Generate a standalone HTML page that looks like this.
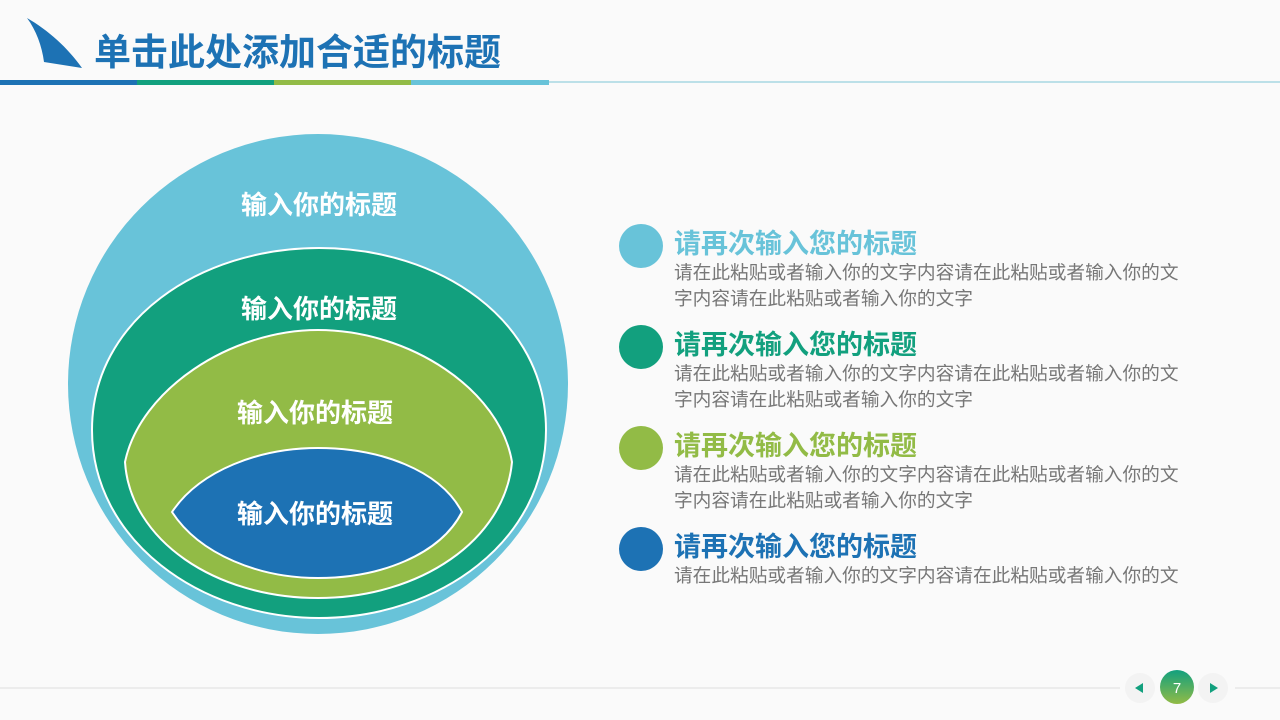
<!DOCTYPE html>
<html><head><meta charset="utf-8"><style>
body{margin:0;width:1280px;height:720px;position:relative;overflow:hidden;background:#fafafa;font-family:"Liberation Sans","Noto Sans CJK SC",sans-serif}
.t{position:absolute;left:94px;top:22px;font-size:37px;font-weight:bold;color:#1d72b4;letter-spacing:0px}
.bar{position:absolute;top:80px;height:5px}
.h{position:absolute;left:674px;font-size:27px;font-weight:bold;white-space:nowrap}
.p{position:absolute;left:674px;font-size:18.7px;color:#777;line-height:26px;width:512px}
.dot{position:absolute;left:619px;width:44px;height:44px;border-radius:50%}
</style></head><body>
<svg width="1280" height="720" style="position:absolute;left:0;top:0">
<path d="M27,18 C48,30 68,48 82,68 L44,62 C42,46 36,30 27,18 Z" fill="#1d72b4"/>
<line x1="549" y1="82" x2="1280" y2="82" stroke="#7fc6d6" stroke-width="1"/>
<line x1="0" y1="688" x2="1120" y2="688" stroke="#ddd"/>
<line x1="1235" y1="688" x2="1280" y2="688" stroke="#ddd"/>
<circle cx="318" cy="384" r="250" fill="#68c3d9"/>
<path d="M92,430 C92,320 200,248 319,248 C440,248 546,320 546,430 C546,540 440,618 319,618 C200,618 92,540 92,430 Z" fill="#12a07e" stroke="#fff" stroke-width="2"/>
<path d="M125,462 C140,390 230,330 318,330 C410,330 500,390 512,462 C505,540 420,598 318,598 C215,598 130,540 125,462 Z" fill="#92bb46" stroke="#fff" stroke-width="2"/>
<path d="M172,512 C200,470 260,448 318,448 C380,448 440,470 462,512 C440,555 380,578 318,578 C260,578 200,555 172,512 Z" fill="#1d72b4" stroke="#fff" stroke-width="2"/>
<g font-family="Liberation Sans,Noto Sans CJK SC,sans-serif" font-size="26" font-weight="bold" fill="#fff" text-anchor="middle">
<text x="319" y="214">输入你的标题</text>
<text x="319" y="318">输入你的标题</text>
<text x="315" y="422">输入你的标题</text>
<text x="315" y="523">输入你的标题</text>
</g>
<circle cx="1140" cy="688" r="15" fill="#f3f3f3"/>
<circle cx="1213" cy="688" r="15" fill="#f3f3f3"/>
<path d="M1135,688 L1143,683 L1143,693 Z" fill="#12a07e"/>
<path d="M1218,688 L1210,683 L1210,693 Z" fill="#12a07e"/>
<defs><linearGradient id="g" x1="0" y1="0" x2="0" y2="1"><stop offset="0" stop-color="#12a07e"/><stop offset="1" stop-color="#92bb46"/></linearGradient></defs>
<circle cx="1177" cy="687" r="17" fill="url(#g)"/>
<text x="1177" y="693" font-size="15" fill="#fff" text-anchor="middle" font-family="Liberation Sans,sans-serif">7</text>
</svg>
<div class="t">单击此处添加合适的标题</div>
<div class="bar" style="left:0;width:137px;background:#1d72b4"></div>
<div class="bar" style="left:137px;width:137px;background:#12a07e"></div>
<div class="bar" style="left:274px;width:137px;background:#92bb46"></div>
<div class="bar" style="left:411px;width:138px;background:#68c3d9"></div>

<div class="dot" style="top:224px;background:#68c3d9"></div>
<div class="h" style="top:222px;color:#68c3d9">请再次输入您的标题</div>
<div class="p" style="top:260px">请在此粘贴或者输入你的文字内容请在此粘贴或者输入你的文字内容请在此粘贴或者输入你的文字</div>
<div class="dot" style="top:325px;background:#12a07e"></div>
<div class="h" style="top:323px;color:#12a07e">请再次输入您的标题</div>
<div class="p" style="top:361px">请在此粘贴或者输入你的文字内容请在此粘贴或者输入你的文字内容请在此粘贴或者输入你的文字</div>
<div class="dot" style="top:426px;background:#92bb46"></div>
<div class="h" style="top:424px;color:#92bb46">请再次输入您的标题</div>
<div class="p" style="top:462px">请在此粘贴或者输入你的文字内容请在此粘贴或者输入你的文字内容请在此粘贴或者输入你的文字</div>
<div class="dot" style="top:527px;background:#1d72b4"></div>
<div class="h" style="top:525px;color:#1d72b4">请再次输入您的标题</div>
<div class="p" style="top:563px">请在此粘贴或者输入你的文字内容请在此粘贴或者输入你的文</div>
</body></html>
